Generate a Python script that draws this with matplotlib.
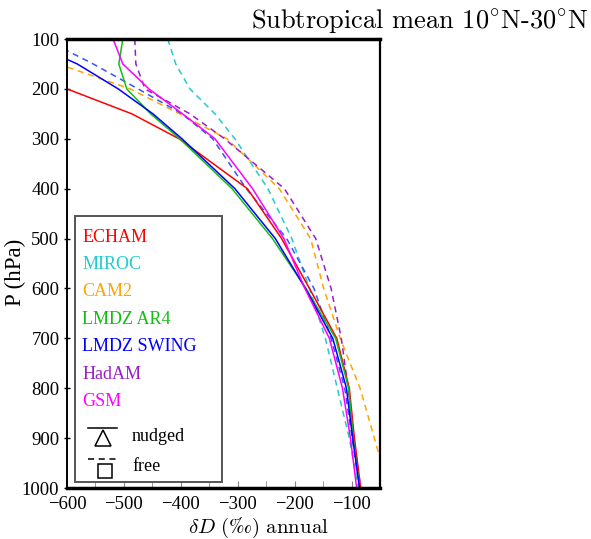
import matplotlib
matplotlib.use("Agg")
import matplotlib.pyplot as plt
from matplotlib.patches import Rectangle

plt.rcParams['font.family'] = 'serif'
plt.rcParams['font.serif'] = ['Liberation Serif', 'DejaVu Serif']
plt.rcParams['mathtext.fontset'] = 'cm'

# pressure levels (hPa)
levels = [100, 150, 200, 250, 300, 400, 500, 600, 700, 800, 900, 1000]

# annual mean dD (permil)
echam_nudged = [-850, -720, -600, -486, -403, -283, -223, -174, -126, -104, -95, -84]
lmdz_ar4_nudged = [-502, -509, -495, -453, -402, -310, -239, -180, -128, -105, -97, -86]
lmdz_swing_nudged = [-680, -582, -510, -449, -398, -305, -234, -181, -133, -109, -98, -86]
gsm_nudged = [-519, -502, -456, -397, -340, -274, -219, -182, -139, -116, -102, -91]
miroc_free = [-423, -409, -384, -340, -305, -247, -205, -174, -146, -125, -104, -88]
cam2_free = [-700, -615, -489, -402, -319, -227, -172, -149, -120, -85, -60, -35]
hadam_free = [-481, -479, -463, -384, -323, -218, -163, -136, -118, -106, -96, -84]
lmdz_swing_free = [-640, -554, -475, -398, -344, -285, -214, -166, -136, -112, -99, -86]

models = ['ECHAM', 'MIROC', 'CAM2', 'LMDZ AR4', 'LMDZ SWING', 'HadAM', 'GSM']
colors = ['#ff0000', '#20cccc', '#ffa500', '#10c010', '#0000ff', '#9a1ec8', '#ff00ff']

fig = plt.figure(figsize=(5.91, 5.39), dpi=100)
ax = fig.add_axes([0.1134, 0.0946, 0.5296, 0.833])

dash = (0, (4, 3))
ax.plot(miroc_free, levels, color=colors[1], lw=1.1, ls=dash)
ax.plot(cam2_free, levels, color=colors[2], lw=1.1, ls=dash)
ax.plot(hadam_free, levels, color=colors[5], lw=1.1, ls=dash)
ax.plot(lmdz_swing_free, levels, color='#3355ff', lw=1.1, ls=dash)
ax.plot(echam_nudged, levels, color=colors[0], lw=1.1)
ax.plot(lmdz_ar4_nudged, levels, color=colors[3], lw=1.1)
ax.plot(lmdz_swing_nudged, levels, color=colors[4], lw=1.1)
ax.plot(gsm_nudged, levels, color=colors[6], lw=1.1)

ax.set_xlim(-600, -50)
ax.set_ylim(1000, 100)
ax.set_xticks([-600, -500, -400, -300, -200, -100])
ax.set_xticks([-550, -450, -350, -250, -150], minor=True)
ax.set_yticks(range(100, 1001, 100))
ax.tick_params(axis='x', which='both', direction='in', length=5, color='#888888',
               labelsize=13.5, pad=6)
ax.tick_params(axis='y', direction='inout', length=5, width=1, labelsize=13.5, pad=3)

for side in ['top', 'bottom']:
    ax.spines[side].set_linewidth(2.5)
ax.spines['right'].set_linewidth(1.6)
ax.spines['left'].set_linewidth(1.4)
ax.spines['left'].set_linestyle((0, (3, 1)))

ax.set_ylabel('P (hPa)', fontsize=16.5)
ax.yaxis.set_label_coords(-0.13, 0.481)
ax.set_xlabel(r'$\delta D\ (\mathrm{‰})\ \mathrm{annual}$', fontsize=15)
ax.xaxis.set_label_coords(0.613, -0.062)

fig.text(0.995, 0.948, r'Subtropical mean 10$^{\circ}$N-30$^{\circ}$N', ha='right',
         va='baseline', fontsize=19, family='cmr10')

# legend box drawn by hand
ax.add_patch(Rectangle((0.0256, 0.0134), 0.469, 0.593, transform=ax.transAxes,
                       fill=True, facecolor='white', edgecolor='#555555', lw=1.4, zorder=5))
for i, (name, c) in enumerate(zip(models, colors)):
    ax.text(0.048, 0.559 - i * 0.0612, name, color=c, fontsize=13, va='center',
            transform=ax.transAxes, zorder=6)
ax.plot([0.0671, 0.1597], [0.1336, 0.1336], color='k', lw=1.1, transform=ax.transAxes,
        zorder=6, clip_on=False)
ax.plot([0.115], [0.111], marker='^', ms=12, mfc='none', mec='k', mew=1.1,
        transform=ax.transAxes, zorder=6, clip_on=False)
ax.text(0.2077, 0.1158, 'nudged', fontsize=13, va='center', transform=ax.transAxes, zorder=6)
ax.plot([0.0671, 0.1597], [0.0646, 0.0646], color='k', lw=1.1, ls=(0, (4, 3)),
        transform=ax.transAxes, zorder=6, clip_on=False)
ax.plot([0.1198], [0.0379], marker='s', ms=10, mfc='none', mec='k', mew=1.1,
        transform=ax.transAxes, zorder=6, clip_on=False)
ax.text(0.2077, 0.049, 'free', fontsize=13, va='center', transform=ax.transAxes, zorder=6)

fig.savefig('out.png', dpi=100)
